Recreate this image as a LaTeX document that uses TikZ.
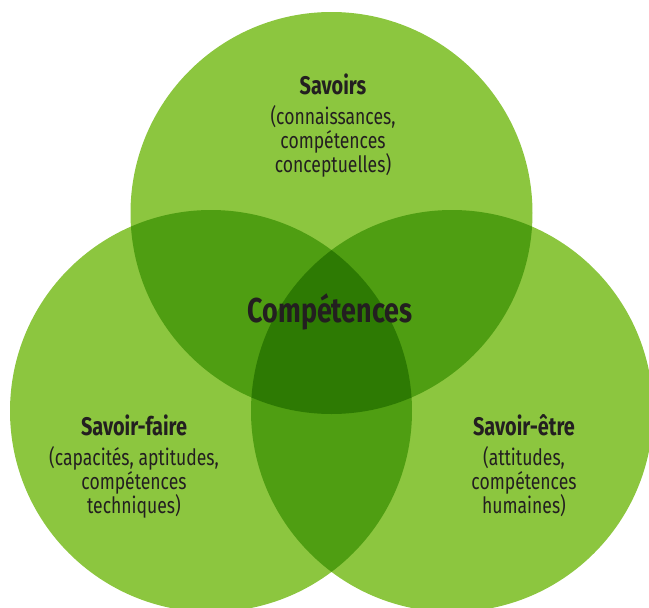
\documentclass[tikz,border=0pt]{standalone}
\usepackage{fontspec}
\setmainfont{Fira Sans}[FakeStretch=0.78]
\definecolor{lightg}{HTML}{8CC63F}
\definecolor{midg}{HTML}{4F9E12}
\definecolor{darkg}{HTML}{2D7A03}
\definecolor{txt}{HTML}{231F20}
\tikzset{
  ttl/.style={font=\bfseries\fontsize{25.5}{28}\selectfont, text=txt, inner sep=0pt},
  sub/.style={font=\fontsize{22.5}{24}\selectfont, text=txt, align=center, inner sep=0pt},
  big/.style={font=\bfseries\fontsize{34.5}{38}\selectfont, text=txt, inner sep=0pt}
}
\begin{document}
\begin{tikzpicture}[x=1pt,y=-1pt]
\useasboundingbox (0,0) rectangle (649,608);
\begin{scope}
\clip (0,0) rectangle (649,608);
\coordinate (cT) at (331.5,213);
\coordinate (cL) at (211,411);
\coordinate (cR) at (452,411);
\def\rr{201}
\fill[lightg] (cT) circle (\rr);
\fill[lightg] (cL) circle (\rr);
\fill[lightg] (cR) circle (\rr);
\begin{scope}\clip (cT) circle (\rr); \fill[midg] (cL) circle (\rr); \fill[midg] (cR) circle (\rr);\end{scope}
\begin{scope}\clip (cL) circle (\rr); \fill[midg] (cR) circle (\rr);\end{scope}
\begin{scope}\clip (cT) circle (\rr); \clip (cL) circle (\rr); \fill[darkg] (cR) circle (\rr);\end{scope}
\end{scope}
\node[ttl] (savoirs) at (333,84) {Savoirs};
\node[sub, anchor=north] (savoirsd) at (333,105) {(connaissances,\\compétences\\conceptuelles)};
\node[big] (comp) at (330,312) {Compétences};
\node[ttl] (sf) at (134,425) {Savoir-faire};
\node[sub, anchor=north] (sfd) at (134,446) {(capacités, aptitudes,\\compétences\\techniques)};
\node[ttl] (se) at (524,425) {Savoir-être};
\node[sub, anchor=north] (sed) at (524,446) {(attitudes,\\compétences\\humaines)};
\end{tikzpicture}
\end{document}
